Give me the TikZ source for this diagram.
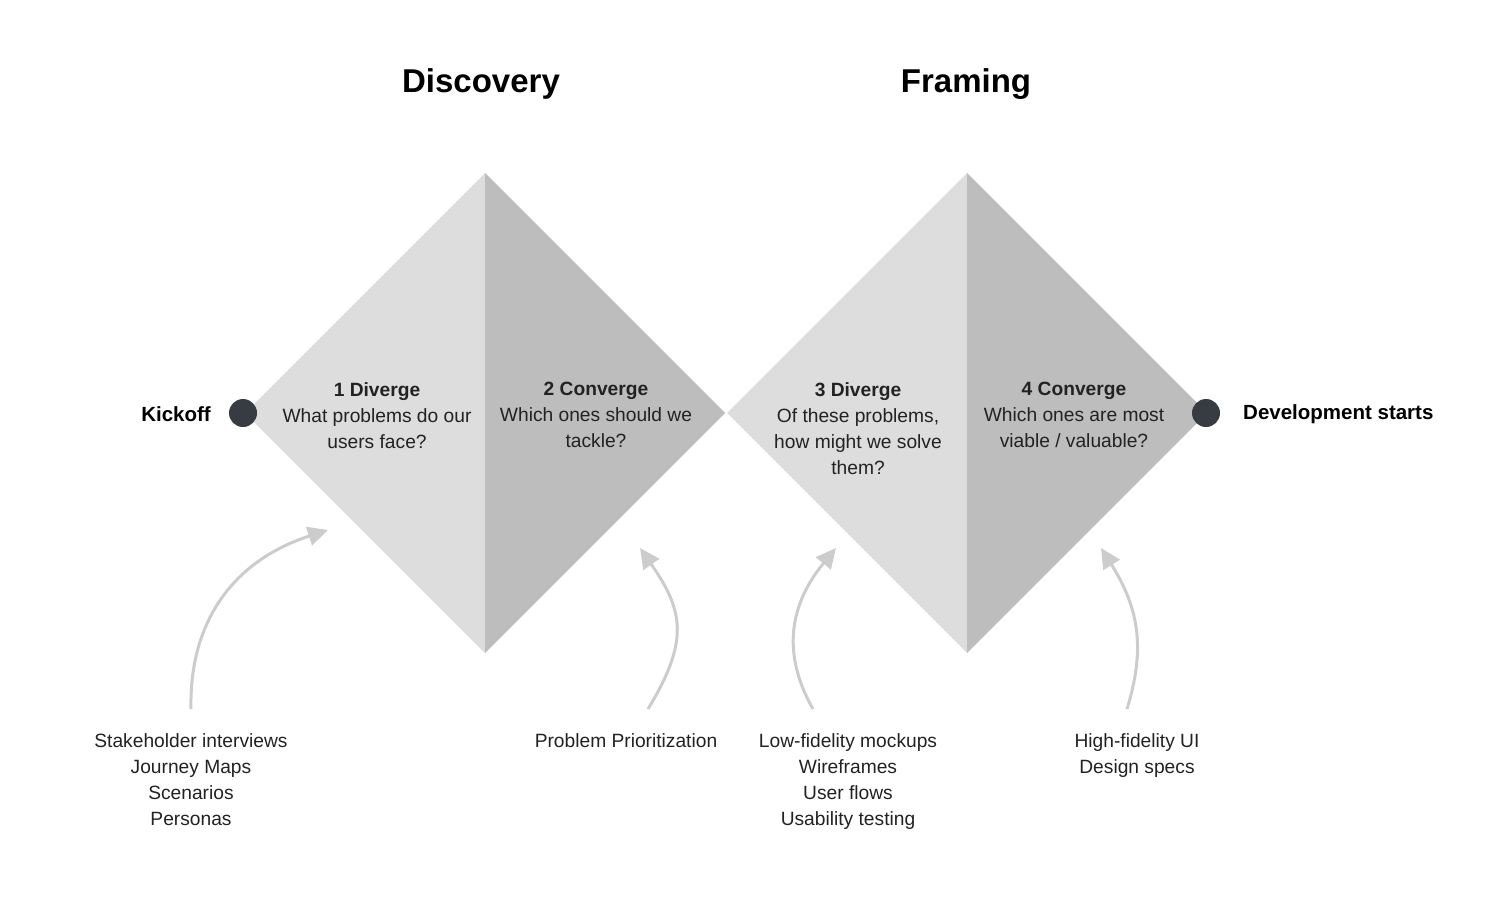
\documentclass[tikz,border=0pt]{standalone}
\usepackage{fontspec}
\setmainfont{Liberation Sans}
\usetikzlibrary{arrows.meta}
\definecolor{lightgrey}{HTML}{DDDDDD}
\definecolor{midgrey}{HTML}{BDBDBD}
\definecolor{arrowgrey}{HTML}{CCCCCC}
\definecolor{dotcol}{HTML}{373C43}
\definecolor{txt}{HTML}{222222}
\tikzset{
  body/.style={align=center, text=txt, font=\fontsize{19.2}{26}\selectfont, inner sep=0pt},
  title/.style={font=\bfseries\fontsize{33}{36}\selectfont, text=black, inner sep=0pt},
  endlabel/.style={font=\bfseries\fontsize{20.5}{24}\selectfont, text=black, inner sep=0pt},
  dot/.style={circle, fill=dotcol, minimum size=28pt, inner sep=0pt},
  flow/.style={draw=arrowgrey, line width=3pt, -{Triangle[length=20pt,width=19pt]}},
}
\begin{document}
\begin{tikzpicture}[x=1pt,y=-1pt]
\useasboundingbox (0,0) rectangle (1488,908);
% diamonds
\fill[lightgrey] (245,413) -- (485,173) -- (485,653) -- cycle;
\fill[midgrey] (485,173) -- (725,413) -- (485,653) -- cycle;
\fill[lightgrey] (727,413) -- (967,173) -- (967,653) -- cycle;
\fill[midgrey] (967,173) -- (1207,413) -- (967,653) -- cycle;
% titles
\node[title] (t1) at (481,84) {Discovery};
\node[title] (t2) at (966,84) {Framing};
% dots and end labels
\node[dot] (kdot) at (243,413) {};
\node[dot] (ddot) at (1206,413) {};
\node[endlabel, anchor=east] (kick) at (211,414) {Kickoff};
\node[endlabel, anchor=west] (dev) at (1243,414) {Development starts};
% phase texts
\node[body, anchor=north] (p1) at (377,382) {\textbf{1 Diverge}\\What problems do our\\users face?};
\node[body, anchor=north] (p2) at (596,382) {\textbf{2 Converge}\\Which ones should we\\tackle?};
\node[body, anchor=north] (p3) at (858,382) {\textbf{3 Diverge}\\Of these problems,\\how might we solve\\them?};
\node[body, anchor=north] (p4) at (1074,382) {\textbf{4 Converge}\\Which ones are most\\viable / valuable?};
% activity lists
\node[body, anchor=north] (a1) at (191,733) {Stakeholder interviews\\Journey Maps\\Scenarios\\Personas};
\node[body, anchor=north] (a2) at (626,733) {Problem Prioritization};
\node[body, anchor=north] (a3) at (848,733) {Low-fidelity mockups\\Wireframes\\User flows\\Usability testing};
\node[body, anchor=north] (a4) at (1137,733) {High-fidelity UI\\Design specs};
% arrow endpoints
\coordinate (s1) at (191,709);
\coordinate (e1) at (328,530);
\coordinate (s2) at (648,709);
\coordinate (e2) at (640,548);
\coordinate (s3) at (813,709);
\coordinate (e3) at (836,548);
\coordinate (s4) at (1127,709);
\coordinate (e4) at (1101,548);
\draw[flow] (s1) .. controls (189,620) and (235,560) .. (e1);
\draw[flow] (s2) .. controls (690,640) and (683,610) .. (e2);
\draw[flow] (s3) .. controls (785,660) and (785,610) .. (e3);
\draw[flow] (s4) .. controls (1145,650) and (1140,610) .. (e4);
\end{tikzpicture}
\end{document}
